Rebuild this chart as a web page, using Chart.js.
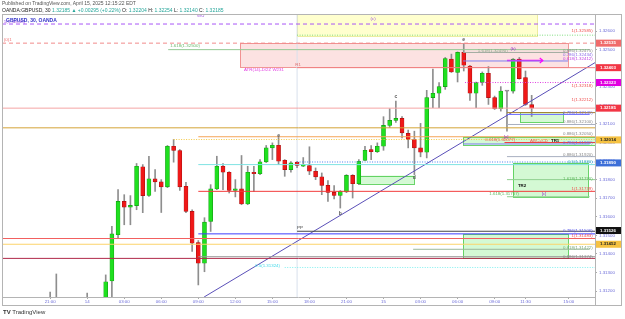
<!DOCTYPE html>
<html>
<head>
<meta charset="utf-8">
<script src="https://cdn.jsdelivr.net/npm/chart.js@4.4.0/dist/chart.umd.min.js"></script>
<style>
  body { margin: 0; background: #fff; font-family: "Liberation Sans", Arial, sans-serif; }
  #wrap { position: relative; width: 625px; height: 319px; }
  canvas { position: absolute; left: 0; top: 0; }
  .t { position: absolute; white-space: nowrap; font-size: 5px; line-height: 6px; }
  .v { color: #26a69a; }
</style>
</head>
<body>
<div id="wrap">
  <canvas id="chart" width="625" height="319"></canvas>
  <div class="t" style="left:2px;top:0px;color:#555">Published on TradingView.com, April 15, 2025 12:15:22 EDT</div>
  <div class="t" style="left:2px;top:7px;color:#222">OANDA:GBPUSD, 30 <span class="v">1.32185 ▲ +0.00295 (+0.22%)</span> O: <span class="v">1.32204</span> H: <span class="v">1.32254</span> L: <span class="v">1.32140</span> C: <span class="v">1.32185</span></div>
  <div class="t" style="left:6px;top:17px;color:#3535c8;font-weight:bold">GBPUSD, 30, OANDA</div>
  <div class="t" style="left:3px;top:309px;color:#333;font-size:6px;line-height:7px"><b>TV</b> TradingView</div>
</div>
<script>
// x axis is hours from 14 Apr 00:00 (30 min bars)
const XMIN = -6.9, XMAX = 41.13;
const YMIN = 1.31168, YMAX = 1.32692;

const barHour = [-3, -2.5, 0, 1.5, 2, 2.5, 3, 3.5, 4, 4.5, 5, 5.5, 6, 6.5, 7, 7.5, 8, 8.5, 9, 9.5,
  10, 10.5, 11, 11.5, 12, 12.5, 13, 13.5, 14, 14.5, 15, 15.5, 16, 16.5, 17, 17.5, 18, 18.5, 19, 19.5,
  20, 20.5, 21, 21.5, 22, 22.5, 23, 23.5, 24, 24.5, 25, 25.5, 26, 26.5, 27, 27.5, 28, 28.5, 29, 29.5,
  30, 30.5, 31, 31.5, 32, 32.5, 33, 33.5, 34, 34.5, 35, 35.5, 36];
const openP = [1.3106, 1.3108, 1.3107, 1.3112, 1.31254, 1.31503, 1.31683, 1.31652, 1.31660, 1.31869, 1.31715, 1.31804, 1.31788, 1.31761, 1.31980, 1.31957, 1.31764, 1.31629, 1.31461, 1.31350,
  1.31575, 1.31750, 1.31872, 1.31840, 1.31742, 1.31750, 1.31669, 1.31840, 1.31832, 1.31896, 1.31971, 1.31985, 1.31904, 1.31854, 1.31894, 1.31872, 1.31876, 1.31845, 1.31815, 1.31769,
  1.31731, 1.31715, 1.31734, 1.31823, 1.31778, 1.31904, 1.31962, 1.31950, 1.31980, 1.32092, 1.32119, 1.32130, 1.32049, 1.32016, 1.31971, 1.31948, 1.32242, 1.32265, 1.32301, 1.32449,
  1.32377, 1.32485, 1.32412, 1.32265, 1.32323, 1.32373, 1.32242, 1.32182, 1.32277, 1.32277, 1.32449, 1.32350, 1.32204];
const highP = [1.31195, 1.31292, 1.31189, 1.31287, 1.31548, 1.31746, 1.31719, 1.31714, 1.31887, 1.31881, 1.31926, 1.31854, 1.31800, 1.31984, 1.32016, 1.31962, 1.31785, 1.31638, 1.31472, 1.31595,
  1.31773, 1.31926, 1.31887, 1.31843, 1.31800, 1.31930, 1.31872, 1.31872, 1.31908, 1.31984, 1.31998, 1.32031, 1.31908, 1.31897, 1.31897, 1.31919, 1.31977, 1.31863, 1.31836, 1.31795,
  1.31768, 1.31741, 1.31827, 1.31827, 1.31908, 1.31980, 1.31984, 1.31998, 1.32139, 1.32182, 1.32223, 1.32139, 1.32067, 1.32061, 1.32103, 1.32281, 1.32395, 1.32323, 1.32458, 1.32476,
  1.32488, 1.32530, 1.32416, 1.32326, 1.32380, 1.32409, 1.32250, 1.32301, 1.32281, 1.32452, 1.32458, 1.32385, 1.32254];
const lowP = [1.3102, 1.3104, 1.3104, 1.3110, 1.3114, 1.31487, 1.31557, 1.31557, 1.31638, 1.31622, 1.31710, 1.31737, 1.31623, 1.31757, 1.31894, 1.31742, 1.31622, 1.31413, 1.31233, 1.31304,
  1.31521, 1.31746, 1.31746, 1.31728, 1.31707, 1.31665, 1.31665, 1.31737, 1.31827, 1.31892, 1.31908, 1.31881, 1.31818, 1.31840, 1.31865, 1.31870, 1.31827, 1.31800, 1.31719, 1.31683,
  1.31696, 1.31647, 1.31730, 1.31701, 1.31773, 1.31903, 1.31908, 1.31946, 1.31958, 1.32081, 1.32108, 1.32025, 1.31971, 1.31827, 1.31923, 1.31917, 1.32188, 1.32188, 1.32286, 1.32377,
  1.32326, 1.32385, 1.32227, 1.32188, 1.32308, 1.32205, 1.32178, 1.32169, 1.32061, 1.32265, 1.32341, 1.32200, 1.32140];
const closeP = [1.3108, 1.3110, 1.3109, 1.31250, 1.31508, 1.31683, 1.31652, 1.31661, 1.31872, 1.31714, 1.31805, 1.31788, 1.31761, 1.31980, 1.31957, 1.31761, 1.31629, 1.31458, 1.31350, 1.31571,
  1.31750, 1.31872, 1.31840, 1.31742, 1.31750, 1.31669, 1.31840, 1.31832, 1.31896, 1.31971, 1.31985, 1.31899, 1.31854, 1.31890, 1.31876, 1.31881, 1.31845, 1.31815, 1.31769, 1.31731,
  1.31715, 1.31737, 1.31823, 1.31778, 1.31899, 1.31958, 1.31950, 1.31980, 1.32092, 1.32119, 1.32130, 1.32052, 1.32016, 1.31971, 1.31948, 1.32242, 1.32265, 1.32301, 1.32452, 1.32380,
  1.32485, 1.32416, 1.32265, 1.32323, 1.32373, 1.32242, 1.32182, 1.32277, 1.32277, 1.32449, 1.32344, 1.32205, 1.32185];

// horizontal drawings: price, start hour, end hour
const levelPrice = [1.32638, 1.32578, 1.32535, 1.32500, 1.32485, 1.32439, 1.32442, 1.32403, 1.32323, 1.32185,
  1.32161, 1.32151, 1.32097, 1.32079, 1.32031, 1.32016, 1.32000, 1.31992, 1.31924, 1.31895,
  1.31881, 1.31800, 1.31737, 1.31708, 1.31522, 1.31508, 1.31483, 1.31452, 1.31425, 1.31385, 1.31376, 1.31327];
const levelFrom = [XMIN, 17, XMIN, 6.56, 30.45, 30.45, 34.0, 17, 30.6, XMIN,
  34, 34, 34, XMIN, 9, 7, 33.8, 30.45, 34, 17,
  9, 34, 9, 34, 17, 9, XMIN, XMIN, 26.4, 9, XMIN, 16];
const levelTo = [XMAX, XMAX, XMAX, 40.7, 38.95, 38.95, 36.9, XMAX, XMAX, XMAX,
  XMAX, 40.7, XMAX, XMAX, XMAX, XMAX, XMAX, 40.7, XMAX, XMAX,
  XMAX, XMAX, XMAX, 40.7, XMAX, XMAX, XMAX, XMAX, 40.7, XMAX, XMAX, XMAX];
const levelColor = ['#a855f7', '#7ddc7d', '#f28b8b', '#93c993', '#a0aca0', '#8080f0', '#ff00ff', '#f08080', '#e040e0', '#f5a5a5',
  '#a88030', '#7070ff', '#a8b0c0', '#d4a437', '#f5a55a', '#f5c842', '#f04040', '#7a7af0', '#a8b0c0', '#4a7ef0',
  '#7fe3e3', '#8fd08f', '#f23c3c', '#8fd08f', '#444444', '#3d3dff', '#f26060', '#fcd36b', '#9ab89a', '#999999', '#b02848', '#7ff0f0'];
const dashed = [0, 2];
const dotted = [1, 15, 19, 8, 31];

// rectangles: start hour, end hour, top price, bottom price
const boxFrom = [17, 12.39, 35.06, 30.45, 34.5, 21.94, 30.45];
const boxTo = [36.44, 38.95, 38.54, 41.13, 40.57, 26.48, 38.95];
const boxTop = [1.32692, 1.32535, 1.32162, 1.32032, 1.31892, 1.31822, 1.31508];
const boxBottom = [1.32573, 1.32405, 1.32108, 1.31989, 1.31708, 1.31777, 1.31378];

// text notes: text, hour, price
const noteText = ['WU', '1(1.32638)', '(0)1', '1.618(1.32500)', 'ATR(14)-D/2Z W231', 'R1', '1(1.32585)', '(b)', '1.618(1.32490)',
  '0.886(1.32475)', '0.786(1.32434)', '0.618(1.32412)', '1(1.32318)', '1(1.32212)', '0.786(1.32141)', '0.886(1.32100)',
  '0.886(1.32050)', '0.786(1.31980)', '0.886(1.31920)', '0.5(1.31880)', '1.618(1.31790)', '1(1.31739)', '0.786(1.31506)',
  '1(1.31483)', '0.618(1.31422)', '0.886(1.31374)', '[a]', '0.618(1.32077)', 'ABC=CD', 'TR1', 'TR2', '[c]', '1.618(1.31707)',
  '0.5(1.31324)', 'e', 'c', 'd', 'b', 'e', 'PP', '(c)'];
const noteHour = [8.9, -6.75, -6.75, 6.72, 12.7, 16.85, 40.95, 34.5, 34.05,
  40.95, 40.95, 40.95, 40.95, 40.95, 40.95, 40.95,
  40.95, 40.95, 40.95, 40.95, 40.95, 40.95, 40.95,
  40.95, 40.95, 40.95, 33.93, 34.66, 36.6, 37.9, 35.22, 37.0, 34.98,
  13.6, 15.5, 25, 26.5, 20.5, 30.5, 17.0, 23.16];
const notePrice = [1.32684, 1.32649, 1.32551, 1.32519, 1.32389, 1.32416, 1.32600, 1.32503, 1.32492,
  1.32494, 1.32472, 1.32449, 1.32308, 1.32232, 1.32162, 1.32114,
  1.32046, 1.32000, 1.31935, 1.31897, 1.31805, 1.31751, 1.31524,
  1.31497, 1.31432, 1.31387, 1.32032, 1.32014, 1.32011, 1.32011, 1.31768, 1.31724, 1.31724,
  1.31338, 1.32038, 1.32249, 1.31811, 1.31616, 1.32554, 1.31541, 1.32665];
const noteColor = ['#9b4de0', '#9b4de0', '#f07070', '#6cb86c', '#e23ee2', '#e07070', '#f05050', '#9b30c8', '#8aa88a',
  '#8a8a8a', '#8a6ae8', '#c040e0', '#f05050', '#f05050', '#6a6ae8', '#8a8a8a',
  '#8a8a8a', '#6a6ae8', '#8a8a8a', '#40b0c0', '#5cb85c', '#f05050', '#5a5ae8',
  '#f05050', '#7aa87a', '#8a8a8a', '#9b30c8', '#f05050', '#f05050', '#111', '#111', '#9b30c8', '#5cb85c',
  '#40d8e8', '#555', '#555', '#555', '#555', '#555', '#333', '#9b4de0'];
const noteAlign = ['left', 'left', 'left', 'left', 'left', 'left', 'right', 'center', 'right',
  'right', 'right', 'right', 'right', 'right', 'right', 'right',
  'right', 'right', 'right', 'right', 'right', 'right', 'right',
  'right', 'right', 'right', 'center', 'right', 'center', 'center', 'center', 'center', 'right',
  'left', 'center', 'center', 'center', 'center', 'center', 'left', 'center'];

// price tags on the axis
const tagPrice = [1.32535, 1.32403, 1.32323, 1.32185, 1.32014, 1.31890, 1.31526, 1.31452];
const tagColor = ['#f06b6b', '#f23645', '#e000e0', '#f23645', '#f5c242', '#3d6fd8', '#111111', '#f5c242'];
const tagText = ['#fff', '#fff', '#fff', '#fff', '#222', '#fff', '#fff', '#222'];

const yTicks = [1.312, 1.313, 1.314, 1.315, 1.316, 1.317, 1.318, 1.319, 1.320, 1.321, 1.322, 1.323, 1.324, 1.325, 1.326];
const xTickPos = [-3, 0, 3, 6, 9, 12, 15, 18, 21, 24, 27, 30, 33, 35.5, 39];
const xTickText = ['21:00', '14', '03:00', '06:00', '09:00', '12:00', '15:00', '18:00', '21:00', '15', '03:00', '06:00', '09:00', '11:30', '15:00'];

const trendHour = [9.47, 41.13];
const trendPrice = [1.31168, 1.32430];

const FONT = '"Liberation Sans", Arial, sans-serif';

const bodyFill = openP.map((o, i) => closeP[i] > o ? '#1fe01f' : (closeP[i] < o ? '#f01818' : '#9a9a9a'));
const bodyEdge = openP.map((o, i) => closeP[i] > o ? '#149a14' : (closeP[i] < o ? '#a81010' : '#777'));

const levelSets = levelPrice.map((p, i) => ({
  type: 'line',
  data: [{ x: levelFrom[i], y: p }, { x: levelTo[i], y: p }],
  borderColor: levelColor[i],
  borderWidth: i === 6 ? 1.5 : 1,
  borderDash: dashed.includes(i) ? [4, 3] : (dotted.includes(i) ? [1, 1.5] : []),
  pointRadius: 0,
  order: 0
}));

const overlay = {
  id: 'overlay',
  beforeDatasetsDraw(chart) {
    const { ctx, chartArea: a, scales: { x, y } } = chart;
    ctx.save();
    ctx.beginPath();
    ctx.rect(a.left, a.top, a.right - a.left, a.bottom - a.top);
    ctx.clip();
    boxFrom.forEach((f, i) => {
      const x0 = x.getPixelForValue(f), x1 = x.getPixelForValue(boxTo[i]);
      const y0 = y.getPixelForValue(boxTop[i]), y1 = y.getPixelForValue(boxBottom[i]);
      if (i === 0) { ctx.fillStyle = 'rgba(255,255,190,0.75)'; ctx.strokeStyle = 'rgba(235,235,150,0.9)'; }
      else if (i === 1) { ctx.fillStyle = 'rgba(240,110,110,0.2)'; ctx.strokeStyle = 'rgba(235,110,110,0.7)'; }
      else { ctx.fillStyle = 'rgba(120,235,120,0.32)'; ctx.strokeStyle = 'rgba(80,205,80,0.85)'; }
      ctx.fillRect(x0, y0, x1 - x0, y1 - y0);
      ctx.lineWidth = 1;
      ctx.strokeRect(Math.round(x0) + 0.5, Math.round(y0) + 0.5, Math.round(x1 - x0), Math.round(y1 - y0));
    });
    ctx.restore();
  },
  afterDraw(chart) {
    const { ctx, chartArea: a, scales: { x, y } } = chart;
    ctx.save();
    // arrow head on magenta line
    const ax = x.getPixelForValue(levelTo[6]), ay = y.getPixelForValue(levelPrice[6]);
    ctx.strokeStyle = '#ff00ff'; ctx.lineWidth = 1.2;
    ctx.beginPath(); ctx.moveTo(ax - 3, ay - 2.5); ctx.lineTo(ax, ay); ctx.lineTo(ax - 3, ay + 2.5); ctx.stroke();
    // notes
    ctx.textBaseline = 'middle';
    noteText.forEach((t, i) => {
      const single = t.length === 1;
      ctx.font = (single || t.startsWith('TR') ? 'bold ' : '') + (single ? '5px ' : '4.4px ') + FONT;
      ctx.fillStyle = noteColor[i];
      ctx.textAlign = noteAlign[i];
      ctx.fillText(t, x.getPixelForValue(noteHour[i]), y.getPixelForValue(notePrice[i]));
    });
    // frame
    ctx.strokeStyle = '#b4b4b4'; ctx.lineWidth = 1;
    ctx.strokeRect(a.left + 0.5, a.top + 0.5, y.right - a.left - 1, x.bottom - a.top - 1);
    ctx.beginPath();
    ctx.moveTo(a.right + 0.5, a.top); ctx.lineTo(a.right + 0.5, x.bottom);
    ctx.moveTo(a.left, a.bottom + 0.5); ctx.lineTo(a.right, a.bottom + 0.5);
    ctx.stroke();
    // axis tags
    ctx.font = 'bold 4.4px ' + FONT;
    ctx.textAlign = 'left';
    tagPrice.forEach((p, i) => {
      const py = y.getPixelForValue(p);
      ctx.fillStyle = tagColor[i];
      ctx.fillRect(a.right + 1, py - 3.5, 25, 7);
      ctx.fillStyle = tagText[i];
      ctx.fillText(p.toFixed(5), a.right + 5, py);
    });
    ctx.restore();
  }
};

new Chart(document.getElementById('chart'), {
  type: 'bar',
  data: {
    datasets: [
      ...levelSets,
      {
        type: 'line',
        data: [{ x: trendHour[0], y: trendPrice[0] }, { x: trendHour[1], y: trendPrice[1] }],
        borderColor: '#5a4fb8', borderWidth: 1, pointRadius: 0, order: 0
      },
      {
        type: 'line',
        data: [{ x: 17, y: YMIN }, { x: 17, y: YMAX }],
        borderColor: '#d8e0ec', borderWidth: 1, pointRadius: 0, order: 3
      },
      {
        data: barHour.map((h, i) => ({ x: h, y: [openP[i], closeP[i]] })),
        backgroundColor: bodyFill, borderColor: bodyEdge, borderWidth: 0.6,
        barThickness: 4, minBarLength: 1, grouped: false, borderSkipped: false, order: 1
      },
      {
        data: barHour.map((h, i) => ({ x: h, y: [lowP[i], highP[i]] })),
        backgroundColor: '#8e8e8e', barThickness: 1, grouped: false, order: 2
      }
    ]
  },
  options: {
    responsive: false,
    animation: false,
    events: [],
    layout: { padding: { left: 2, top: 14, right: 3, bottom: 13 } },
    plugins: { legend: { display: false }, tooltip: { enabled: false } },
    scales: {
      x: {
        type: 'linear', min: XMIN, max: XMAX, offset: false,
        afterBuildTicks: s => { s.ticks = xTickPos.map(v => ({ value: v })); },
        afterFit: s => { s.height = 9; },
        ticks: {
          autoSkip: false, maxRotation: 0, padding: 0,
          color: '#6b6bd8', font: { size: 4.4, family: FONT },
          callback: (v, i) => xTickText[i]
        },
        grid: { drawOnChartArea: false, offset: false, tickLength: 2, color: '#aaa' },
        border: { display: false }
      },
      y: {
        position: 'right', min: YMIN, max: YMAX,
        afterBuildTicks: s => { s.ticks = yTicks.map(v => ({ value: v })); },
        afterFit: s => { s.width = 27; },
        ticks: {
          padding: 2, color: '#6b6bd8', font: { size: 4.4, family: FONT },
          callback: v => v.toFixed(5)
        },
        grid: { drawOnChartArea: false, tickLength: 2, color: '#aaa' },
        border: { display: false }
      }
    }
  },
  plugins: [overlay]
});
</script>
</body>
</html>
